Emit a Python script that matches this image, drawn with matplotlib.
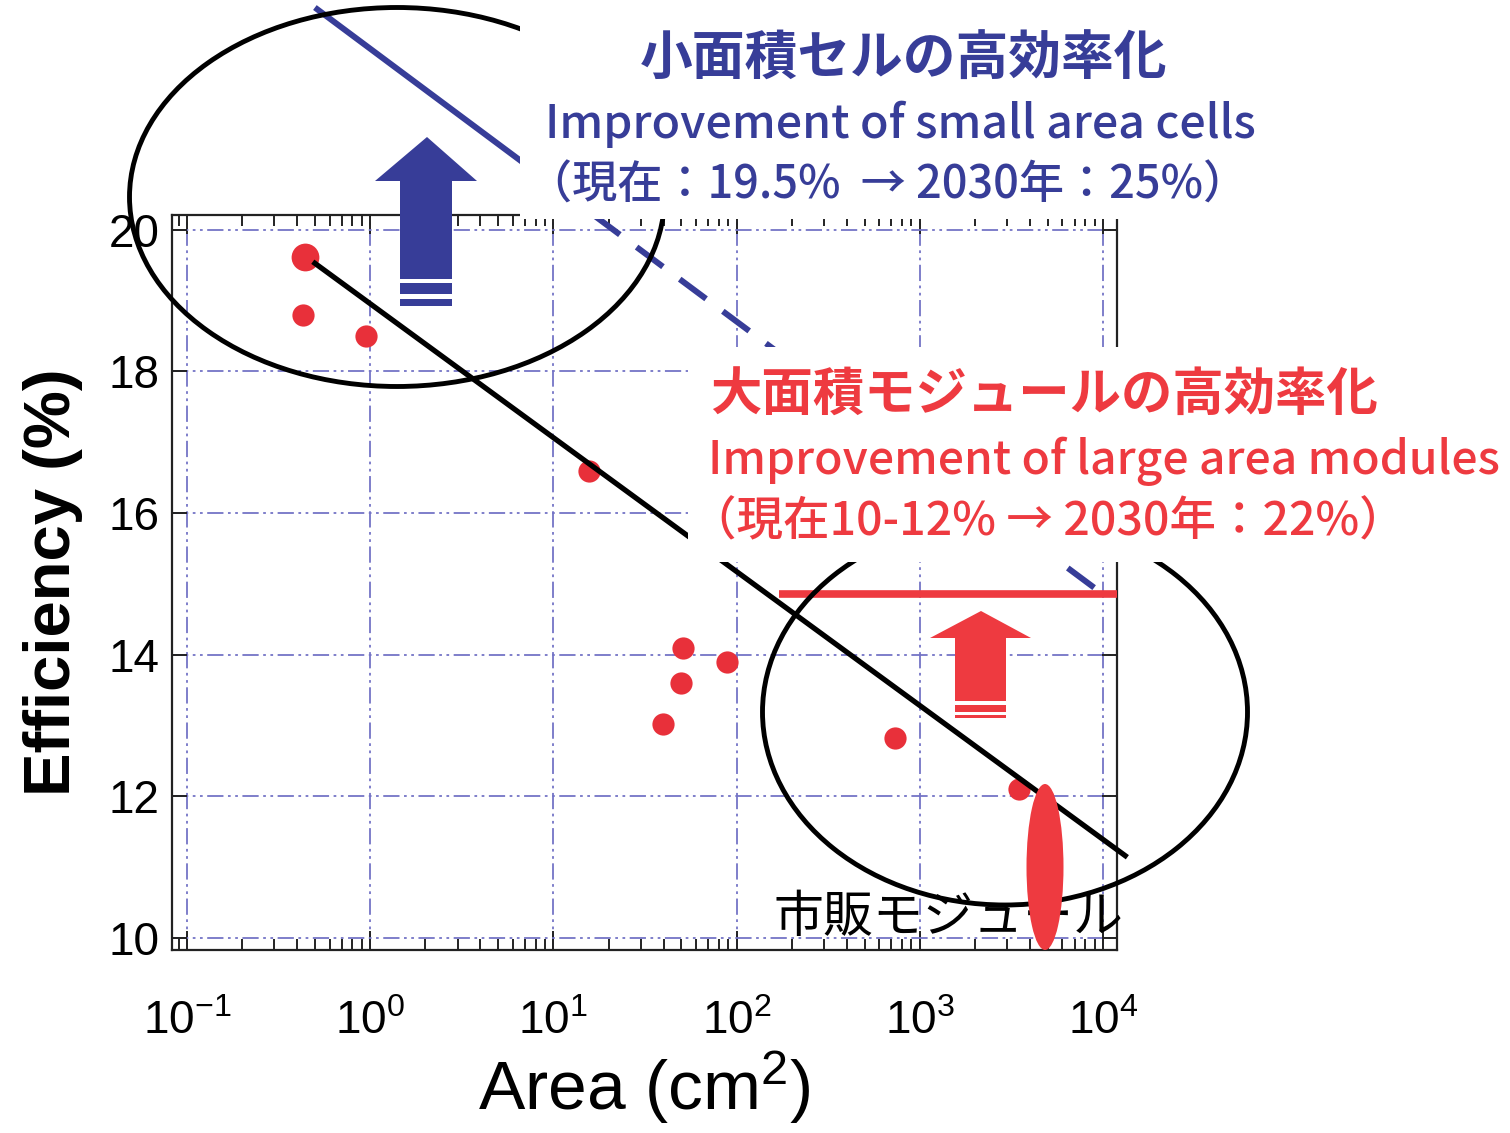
import matplotlib
matplotlib.use('Agg')
import matplotlib.pyplot as plt
from matplotlib.patches import Ellipse, Polygon, Rectangle
from matplotlib.ticker import LogLocator, FixedLocator, NullFormatter

plt.rcParams['font.family'] = ['Liberation Sans', 'DejaVu Sans']
plt.rcParams['mathtext.fontset'] = 'custom'
plt.rcParams['mathtext.rm'] = 'Liberation Sans'
plt.rcParams['mathtext.it'] = 'Liberation Sans:italic'
plt.rcParams['mathtext.bf'] = 'Liberation Sans:bold'
plt.rcParams['axes.unicode_minus'] = False

# ---------------- data ----------------
cell_area = [0.43, 0.95, 15.6, 51.0, 49.5, 39.5, 89.0, 730.0, 3500.0]
cell_eff = [18.80, 18.50, 16.60, 14.10, 13.60, 13.02, 13.90, 12.82, 12.10]
champion_area = [0.44]
champion_eff = [19.62]

trend_area = [0.486, 13600.0]
trend_eff = [19.55, 11.14]

small_target_solid_area = [0.499, 16.56]
small_target_solid_eff = [23.14, 20.21]
small_target_dash_area = [16.56, 10185.0]
small_target_dash_eff = [20.21, 14.84]

module_target_area = [170.0, 11940.0]
module_target_eff = [14.86, 14.86]

x_limits = [0.0828, 11940.0]
y_limits = [9.83, 20.21]
y_ticks = [10, 12, 14, 16, 18, 20]

blue_title = "小面積セルの高効率化"
blue_sub = "Improvement of small area cells"
blue_note = "（現在：19.5%  → 2030年：25%）"
red_title = "大面積モジュールの高効率化"
red_sub = "Improvement of large area modules"
red_note = "（現在10-12% → 2030年：22%）"
module_label = "市販モジュール"

BLUE = '#373D98'
RED = '#EE3A40'
PT_RED = '#E8303A'
GRID = '#7474C6'
CJK = ['Noto Sans CJK JP', 'DejaVu Sans']

W, H = 1510, 1133
fig = plt.figure(figsize=(W / 100, H / 100), dpi=100)
AX_L, AX_R, AX_T, AX_B = 172, 1117, 215, 950
ax = fig.add_axes([AX_L / W, 1 - AX_B / H, (AX_R - AX_L) / W, (AX_B - AX_T) / H])


def pa(px, py):
    return ((px - AX_L) / (AX_R - AX_L), (AX_B - py) / (AX_B - AX_T))


def pf(px, py):
    return (px / W, 1 - py / H)


ax.set_xscale('log')
ax.set_xlim(*x_limits)
ax.set_ylim(*y_limits)
ax.xaxis.set_major_locator(LogLocator(base=10, numticks=10))
ax.xaxis.set_minor_locator(LogLocator(base=10, subs=range(2, 10), numticks=20))
ax.xaxis.set_minor_formatter(NullFormatter())
ax.yaxis.set_major_locator(FixedLocator(y_ticks))

for s in ax.spines.values():
    s.set_linewidth(1.6)
    s.set_color('#222222')
ax.tick_params(axis='both', which='both', direction='in', top=True, right=True,
               width=1.4, color='#222222')
ax.tick_params(axis='x', which='major', length=14, labelsize=33, pad=36)
ax.tick_params(axis='x', which='minor', length=8)
ax.tick_params(axis='y', which='major', length=11, labelsize=33, pad=9)

ax.grid(True, which='major', color=GRID, linewidth=1.3,
        linestyle=(0, (9, 2.5, 1.5, 2.5, 1.5, 2.5)), zorder=0)
ax.set_axisbelow(True)

ax.set_xlabel(r'Area (cm$^{2}$)', fontsize=50, labelpad=4)
ax.set_ylabel('Efficiency (%)', fontsize=47, fontweight='bold', labelpad=18)

# data points
ax.plot(cell_area, cell_eff, 'o', color=PT_RED, markersize=16, markeredgewidth=0, zorder=3)
ax.plot(champion_area, champion_eff, 'o', color=PT_RED, markersize=20, markeredgewidth=0, zorder=3)

# trend line
ax.plot(trend_area, trend_eff, color='black', linewidth=3.8, clip_on=False, zorder=4,
        solid_capstyle='butt')

# blue target line
ax.plot(small_target_solid_area, small_target_solid_eff, color=BLUE, linewidth=4.3,
        clip_on=False, zorder=4, solid_capstyle='butt')
ax.plot(small_target_dash_area, small_target_dash_eff, color=BLUE, linewidth=4.3,
        dashes=(5.5, 3.5), clip_on=False, zorder=4)

# red target line
ax.plot(module_target_area, module_target_eff, color=RED, linewidth=5.5,
        clip_on=False, zorder=4, solid_capstyle='butt')

# ellipses (axes fraction)
c = pa(397, 197)
ax.add_patch(Ellipse(c, 535 / 945, 379 / 735, transform=ax.transAxes, fill=False,
                     edgecolor='black', linewidth=3.5, clip_on=False, zorder=4))
c = pa(1005, 712)
ax.add_patch(Ellipse(c, 485 / 945, 386 / 735, transform=ax.transAxes, fill=False,
                     edgecolor='black', linewidth=3.5, clip_on=False, zorder=4))

# commercial module label + red ellipse
ax.text(*pa(773, 918), module_label, transform=ax.transAxes, fontsize=36,
        family=CJK, color='black', va='center', ha='left', zorder=3, clip_on=False)
c = pa(1045, 867)
ax.add_patch(Ellipse(c, 37 / 945, 166 / 735, transform=ax.transAxes,
                     facecolor=RED, edgecolor='none', clip_on=False, zorder=5))


def arrow(tip, hy, hx0, hx1, sx0, sx1, sy, stripes, color):
    pts = [tip, (hx1, hy), (sx1, hy), (sx1, sy), (sx0, sy), (sx0, hy), (hx0, hy)]
    ax.add_patch(Polygon([pa(*p) for p in pts], closed=True, transform=ax.transAxes,
                         facecolor=color, edgecolor='none', clip_on=False, zorder=5))
    for y0, y1 in stripes:
        x0, yy0 = pa(sx0, y1)
        x1, yy1 = pa(sx1, y0)
        ax.add_patch(Rectangle((x0, yy0), x1 - x0, yy1 - yy0, transform=ax.transAxes,
                               facecolor=color, edgecolor='none', clip_on=False, zorder=5))


arrow((427, 137), 181, 375, 477, 400, 452, 279, [(283, 294), (299, 306)], BLUE)
arrow((981, 611), 638, 930, 1031, 955, 1006, 701, [(705, 712), (715, 718)], RED)

# white boxes behind annotation text
for (x0, y0, x1, y1) in [(520, 0, 1268, 219), (688, 347, 1510, 562)]:
    fx0, fy1 = pf(x0, y0)
    fx1, fy0 = pf(x1, y1)
    fig.patches.append(Rectangle((fx0, fy0), fx1 - fx0, fy1 - fy0, transform=fig.transFigure,
                                 facecolor='white', edgecolor='none', zorder=10))

fig.text(*pf(640, 59), blue_title, fontsize=38, family=CJK, fontweight='bold',
         color=BLUE, va='center', ha='left', zorder=11)
fig.text(*pf(545, 124), blue_sub, fontsize=33.5, family=CJK, fontweight='medium',
         color=BLUE, va='center', ha='left', zorder=11)
fig.text(*pf(527, 185), blue_note, fontsize=32.5, family=CJK, fontweight='medium',
         color=BLUE, va='center', ha='left', zorder=11)

fig.text(*pf(710, 395), red_title, fontsize=37, family=CJK, fontweight='bold',
         color=RED, va='center', ha='left', zorder=11)
fig.text(*pf(708, 461), red_sub, fontsize=33.3, family=CJK, fontweight='medium',
         color=RED, va='center', ha='left', zorder=11)
fig.text(*pf(690, 522), red_note, fontsize=33.5, family=CJK, fontweight='medium',
         color=RED, va='center', ha='left', zorder=11)

fig.savefig('out.png', dpi=100)
